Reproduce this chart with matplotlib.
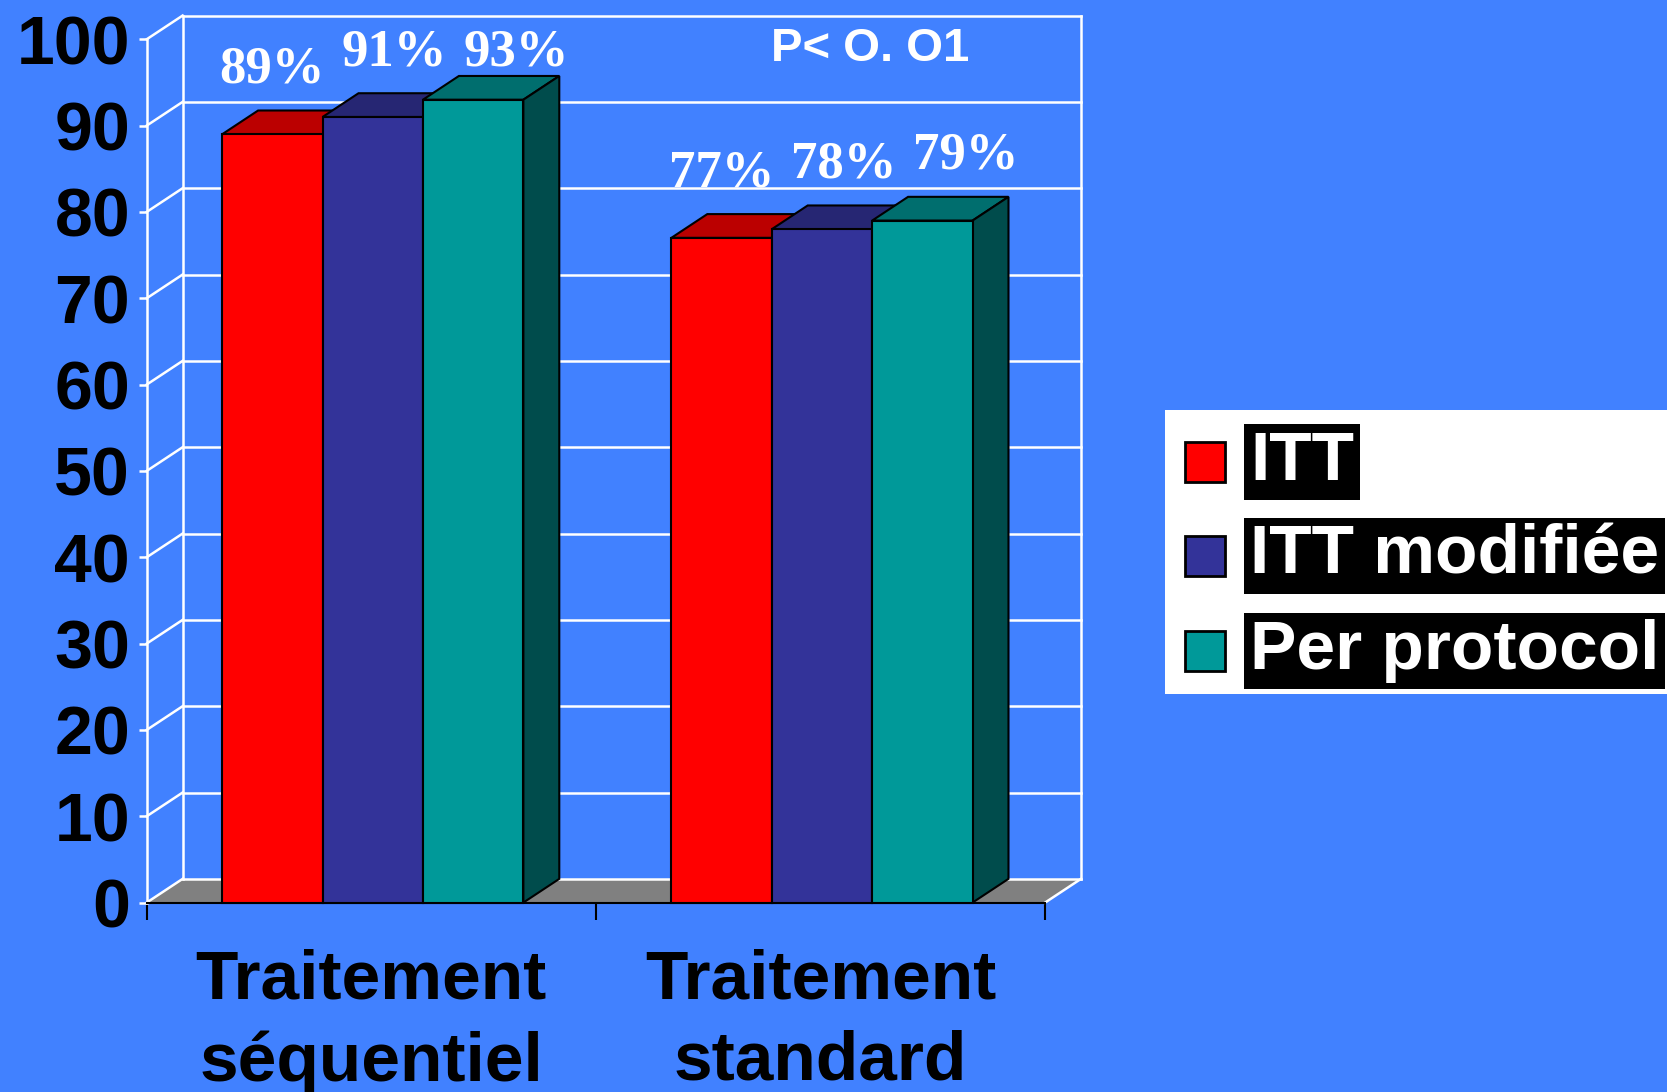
import matplotlib
matplotlib.use('Agg')
import matplotlib.pyplot as plt
from matplotlib.patches import Polygon, Rectangle

# data
categories = ['Traitement\nséquentiel', 'Traitement\nstandard']
series_names = ['ITT', 'ITT modifiée', 'Per protocol']
itt = [89, 77]
itt_modifiee = [91, 78]
per_protocol = [93, 79]
yticks = list(range(0, 101, 10))
p_note = 'P< O. O1'

values = [itt, itt_modifiee, per_protocol]
front_cols = ['#FF0000', '#333399', '#009999']
top_cols = ['#BB0000', '#262673', '#006E6E']
side_cols = ['#8C0000', '#1E1E5A', '#004C4C']
bg = '#4181FF'

plt.rcParams['font.family'] = ['Liberation Sans', 'DejaVu Sans']

fig = plt.figure(figsize=(16.67, 10.92), dpi=100, facecolor=bg)
ax = fig.add_axes([0, 0, 1, 1])
ax.set_facecolor('none')
ax.set_xlim(-0.3266, 3.3845)   # so the front plane sits where it does in the slide
ax.set_ylim(-21.94, 104.55)

dx, dy = 0.08, 2.75   # depth offset of the 3d look
ncat = len(categories)

# back wall + side wall grid
for t in yticks:
    ax.plot([dx, ncat + dx], [t + dy, t + dy], color='white', lw=1.8, zorder=2)
    ax.plot([0, dx], [t, t + dy], color='white', lw=1.8, zorder=2)
for xx in [dx, ncat + dx]:
    ax.plot([xx, xx], [dy, 100 + dy], color='white', lw=1.8, zorder=2)
ax.plot([ncat, ncat + dx], [0, dy], color='white', lw=1.8, zorder=2)

# floor
ax.add_patch(Polygon([(0, 0), (ncat, 0), (ncat + dx, dy), (dx, dy)], closed=True,
                     facecolor='#808080', edgecolor='none', zorder=1))

gap = 0.168
bw = 0.2235
for i, vals in enumerate(values):
    lefts = [g + gap + i * bw for g in range(ncat)]
    z = 3 + i
    ax.bar(lefts, vals, width=bw, align='edge', color=front_cols[i],
           edgecolor='black', linewidth=1.5, zorder=z + 0.1)
    for x0, v in zip(lefts, vals):
        ax.add_patch(Polygon([(x0, v), (x0 + bw, v), (x0 + bw + dx, v + dy), (x0 + dx, v + dy)],
                             closed=True, facecolor=top_cols[i], edgecolor='black', lw=1.5, zorder=z))
        ax.add_patch(Polygon([(x0 + bw, 0), (x0 + bw + dx, dy), (x0 + bw + dx, v + dy), (x0 + bw, v)],
                             closed=True, facecolor=side_cols[i], edgecolor='black', lw=1.5, zorder=z))
        # labels drift right a bit with each series, like in the slide
        ax.text(x0 + bw / 2 + i * dx * 0.6, min(v + 6, 97), f'{v}%', ha='center', va='baseline',
                family='Liberation Serif', fontweight='bold', fontsize=38, color='white', zorder=10)

ax.text(1.61, 98.9, p_note, ha='center', va='center', fontsize=34, fontweight='bold',
        color='white', zorder=10)

# axes styling
for s in ['top', 'right']:
    ax.spines[s].set_visible(False)
ax.spines['left'].set_position(('data', 0))
ax.spines['left'].set_bounds(0, 100)
ax.spines['left'].set_color('white')
ax.spines['left'].set_linewidth(1.8)
ax.spines['left'].set_zorder(2)
ax.spines['bottom'].set_position(('data', 0))
ax.spines['bottom'].set_bounds(0, ncat)
ax.spines['bottom'].set_color('black')
ax.spines['bottom'].set_linewidth(1.5)

ax.set_yticks(yticks)
ax.set_yticklabels([str(t) for t in yticks])
ax.tick_params(axis='y', colors='white', length=6, width=1.8, pad=6,
               labelcolor='black', labelsize=49)
for lab in ax.get_yticklabels():
    lab.set_fontweight('bold')

ax.set_xticks(range(ncat + 1))
ax.set_xticklabels([])
ax.set_xticks([g + 0.5 for g in range(ncat)], minor=True)
ax.set_xticklabels(categories, minor=True, fontsize=50, fontweight='bold', linespacing=1.35)
ax.tick_params(axis='x', which='major', length=12, width=1.5, color='black')
ax.tick_params(axis='x', which='minor', length=0, pad=33)

# legend, drawn by hand to get the black text boxes
W, H = 1667.0, 1092.0
fig.patches.append(Rectangle((1165 / W, 1 - 694 / H), 510 / W, 284 / H, transform=fig.transFigure,
                             facecolor='white', edgecolor='none', zorder=0))
for i, name in enumerate(series_names):
    yc = [462, 556, 651][i]
    fig.patches.append(Rectangle((1185 / W, 1 - (yc + 20) / H), 40 / W, 40 / H,
                                 transform=fig.transFigure, facecolor=front_cols[i],
                                 edgecolor='black', lw=2, zorder=1))
    fig.text(1250 / W, 1 - yc / H, name, ha='left', va='center', fontsize=50,
             fontweight='bold', color='white',
             bbox=dict(boxstyle='square,pad=0.08', facecolor='black', edgecolor='none'))

fig.savefig('out.png', dpi=100, facecolor=bg)
